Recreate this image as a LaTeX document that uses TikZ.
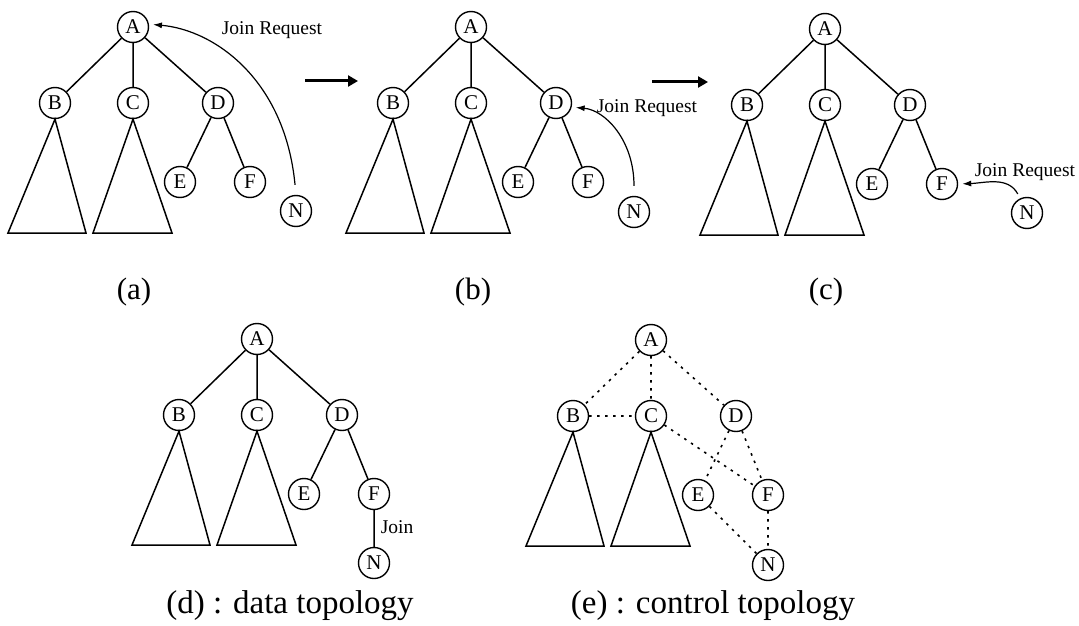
\documentclass[tikz,border=0pt]{standalone}
\usepackage{fontspec}
\setmainfont{Liberation Serif}
\usetikzlibrary{arrows.meta}
\newcommand\treenodes[3]{%
 \begin{scope}[shift={(#2,#3)}]
 \node[nd] (A#1) at (133,27) {A};
 \node[nd] (B#1) at (55,103) {B};
 \node[nd] (C#1) at (133,103) {C};
 \node[nd] (D#1) at (218,103) {D};
 \node[nd] (E#1) at (180,182) {E};
 \node[nd] (F#1) at (250,182) {F};
 \draw[tri] (B#1.south) -- (8,233) -- (86,233) -- cycle;
 \draw[tri] (C#1.south) -- (93,233) -- (172,233) -- cycle;
 \end{scope}}
\begin{document}
\begin{tikzpicture}[x=1pt,y=-1pt,
  nd/.style={circle,draw,line width=1.4pt,minimum size=31pt,inner sep=0pt,font=\fontsize{21}{21}\selectfont},
  edge/.style={line width=1.5pt},
  ctl/.style={line width=1.6pt,dash pattern=on 2.5pt off 5.5pt},
  tri/.style={line width=1.5pt,line join=miter},
  req/.style={line width=1.2pt,-{Latex[length=9pt,width=6pt]},shorten >=4pt},
  flow/.style={line width=3pt,-{Triangle[length=10pt,width=11pt]}},
  lbl/.style={inner sep=0pt,font=\fontsize{19.5}{19.5}\selectfont},
  captxt/.style={inner sep=0pt,font=\fontsize{31}{31}\selectfont},
  captxtb/.style={inner sep=0pt,font=\fontsize{33}{33}\selectfont}]
\useasboundingbox[fill=white] (0,0) rectangle (1079,626);

% (a)
\treenodes{a}{0}{0}
\node[nd] (Na) at (296,211) {N};
\draw[edge] (Aa) -- (Ba) (Aa) -- (Ca) (Aa) -- (Da) (Da) -- (Ea) (Da) -- (Fa);
\draw[req,shorten <=10pt] (Na.north) .. controls (285,80) and (215,30) .. (Aa.10);
\node[lbl] (ja) at (272,30) {Join Request};
\node[captxt] (capa) at (134,292) {(a)};

% flow arrows
\coordinate (f1s) at (305,81);
\coordinate (f1e) at (358,81);
\coordinate (f2s) at (652,82);
\coordinate (f2e) at (708,82);
\draw[flow] (f1s) -- (f1e);
\draw[flow] (f2s) -- (f2e);

% (b)
\treenodes{b}{338}{0}
\node[nd] (Nb) at (634,212) {N};
\draw[edge] (Ab) -- (Bb) (Ab) -- (Cb) (Ab) -- (Db) (Db) -- (Eb) (Db) -- (Fb);
\draw[req,shorten <=10pt] (Nb.north) .. controls (634,140) and (605,110) .. (Db.-15);
\node[lbl] (jb) at (647,108) {Join Request};
\node[captxt] (capb) at (473,292) {(b)};

% (c)
\treenodes{c}{692}{2}
\node[nd] (Nc) at (1027,213) {N};
\draw[edge] (Ac) -- (Bc) (Ac) -- (Cc) (Ac) -- (Dc) (Dc) -- (Ec) (Dc) -- (Fc);
\draw[req,shorten <=5pt] (Nc.115) .. controls (1008,176) and (985,183) .. (Fc.east);
\node[lbl] (jc) at (1025,172) {Join Request};
\node[captxt] (capc) at (826,292) {(c)};

% (d)
\treenodes{d}{124}{312}
\node[nd] (Nd) at (374,563) {N};
\draw[edge] (Ad) -- (Bd) (Ad) -- (Cd) (Ad) -- (Dd) (Dd) -- (Ed) (Dd) -- (Fd) (Fd) -- (Nd);
\node[lbl] (jd) at (397,527) {Join};
\node[captxtb] (capd) at (290,606) {(d) : data topology};

% (e)
\treenodes{e}{518}{313}
\node[nd] (Ne) at (768,565) {N};
\draw[ctl] (Ae) -- (Be) (Ae) -- (Ce) (Ae) -- (De) (Be) -- (Ce) (Ce) -- (Fe) (De) -- (Ee) (De) -- (Fe) (Ee) -- (Ne) (Fe) -- (Ne);
\node[captxtb] (cape) at (713,606) {(e) : control topology};
\end{tikzpicture}
\end{document}
